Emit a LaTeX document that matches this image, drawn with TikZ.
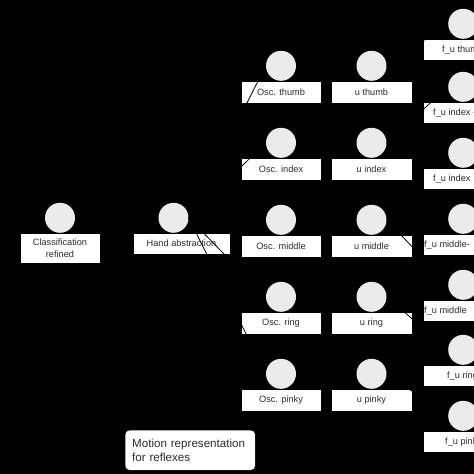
\documentclass[tikz,border=0pt]{standalone}
\usepackage{fontspec}
\setmainfont{Liberation Sans}
\usetikzlibrary{positioning}
\definecolor{headgray}{RGB}{235,235,235}
\definecolor{textgray}{RGB}{45,45,45}
\newcommand{\boxfont}{\fontsize{9.2}{12.5}\selectfont}
\newcommand{\notefont}{\fontsize{11.6}{14}\selectfont}

\begin{document}
\begin{tikzpicture}[x=1pt, y=-1pt,
  box/.style={draw=black, fill=white, font=\boxfont, text=textgray, align=center,
              minimum width=#1, minimum height=22pt, inner sep=1pt, anchor=north},
  box/.default=80pt,
  head/.style={circle, fill=headgray, minimum size=30pt, inner sep=0pt, anchor=south},
  lbl/.style={font=\boxfont, text=textgray, anchor=west, inner sep=0pt},
  link/.style={line width=0.8pt, black}]
\clip (0,0) rectangle (474,474);
\fill[black] (0,0) rectangle (474,474);

\node[box=80pt, minimum height=30pt] (cls-b) at (60,233) {Classification\\refined};
\node[head] (cls) at (cls-b.north) {};
\node[box=97pt, minimum height=21pt] (hand-b) at (181.5,233) {Hand abstraction};
\node[head] (hand) at ([xshift=-8pt]hand-b.north) {};

\node[box] (oscT-b) at (281,81) {Osc. thumb};
\node[box] (oscI-b) at (281,158) {Osc. index};
\node[box] (oscM-b) at (281,235) {Osc. middle};
\node[box] (oscR-b) at (281,312) {Osc. ring};
\node[box] (oscP-b) at (281,389) {Osc. pinky};
\node[head] (oscT) at (oscT-b.north) {};
\node[head] (oscI) at (oscI-b.north) {};
\node[head] (oscM) at (oscM-b.north) {};
\node[head] (oscR) at (oscR-b.north) {};
\node[head] (oscP) at (oscP-b.north) {};

\node[box=81pt] (uT-b) at (371.5,81) {u thumb};
\node[box=81pt] (uI-b) at (371.5,158) {u index};
\node[box=81pt] (uM-b) at (371.5,235) {u middle};
\node[box=81pt] (uR-b) at (371.5,312) {u ring};
\node[box=81pt] (uP-b) at (371.5,389) {u pinky};
\node[head] (uT) at (uT-b.north) {};
\node[head] (uI) at (uI-b.north) {};
\node[head] (uM) at (uM-b.north) {};
\node[head] (uR) at (uR-b.north) {};
\node[head] (uP) at (uP-b.north) {};

\node[box, anchor=north west, minimum height=21pt] (fuT-b) at (423,39) {};
\node[box, anchor=north west, minimum height=21pt] (fuI1-b) at (423,102) {};
\node[box, anchor=north west, minimum height=21pt] (fuI2-b) at (423,168) {};
\node[box, anchor=north west, minimum height=21pt] (fuM1-b) at (423,234) {};
\node[box, anchor=north west, minimum height=21pt] (fuM2-b) at (423,300) {};
\node[box, anchor=north west, minimum height=21pt] (fuR-b) at (423,365) {};
\node[box, anchor=north west, minimum height=21pt] (fuP-b) at (423,431) {};
\node[lbl] (fuT-t) at ([xshift=19pt]fuT-b.west) {f\_u thumb};
\node[lbl] (fuI1-t) at ([xshift=10pt]fuI1-b.west) {f\_u index -};
\node[lbl] (fuI2-t) at ([xshift=10pt]fuI2-b.west) {f\_u index};
\node[lbl] (fuM1-t) at ([xshift=1pt]fuM1-b.west) {f\_u middle-};
\node[lbl] (fuM2-t) at ([xshift=1pt]fuM2-b.west) {f\_u middle};
\node[lbl] (fuR-t) at ([xshift=24pt]fuR-b.west) {f\_u ring};
\node[lbl] (fuP-t) at ([xshift=22pt]fuP-b.west) {f\_u pinky};
\node[head] (fuT) at (fuT-b.north) {};
\node[head] (fuI1) at (fuI1-b.north) {};
\node[head] (fuI2) at (fuI2-b.north) {};
\node[head] (fuM1) at (fuM1-b.north) {};
\node[head] (fuM2) at (fuM2-b.north) {};
\node[head] (fuR) at (fuR-b.north) {};
\node[head] (fuP) at (fuP-b.north) {};

\node[draw=black, fill=white, rounded corners=4pt, anchor=north west, font=\notefont,
      text=textgray, align=left, text width=116pt, inner xsep=7pt, minimum height=40pt]
      (note) at (125,430) {Motion representation\\for reflexes};

\draw[link] (cls) -- (hand);
\draw[link] (hand.east) -- (oscT.west);
\draw[link] (hand.east) -- (oscI.west);
\draw[link] (hand.east) -- (oscM.west);
\draw[link] (hand.east) -- (oscR.west);
\draw[link] (hand.east) -- (oscP.west);
\draw[link] (oscT) -- (uT);
\draw[link] (oscI) -- (uI);
\draw[link] (oscM) -- (uM);
\draw[link] (oscR) -- (uR);
\draw[link] (oscP) -- (uP);
\draw[link] (uT.east) -- (fuT.west);
\draw[link] (uI.east) -- (fuI1.west);
\draw[link] (uI.east) -- (fuI2.west);
\draw[link] (uM.east) -- (fuM1.west);
\draw[link] (uM.east) -- (fuM2.west);
\draw[link] (uR.east) -- (fuR.west);
\draw[link] (uP.east) -- (fuP.west);
\end{tikzpicture}
\end{document}
